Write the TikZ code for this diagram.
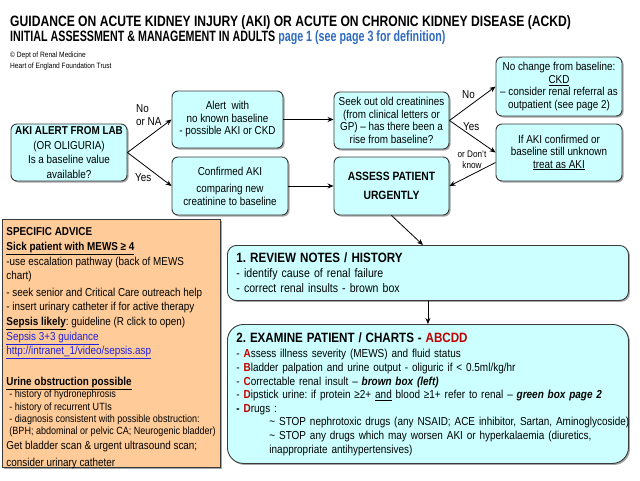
\documentclass[tikz,border=0pt]{standalone}
\usepackage{fontspec}
\setmainfont{Liberation Sans}[FakeStretch=0.86]
\usetikzlibrary{arrows.meta,positioning,shadows}
\definecolor{akicyan}{HTML}{CCFFFF}
\definecolor{akiorange}{HTML}{FFCC99}
\definecolor{akiblue}{HTML}{2E6BC0}
\definecolor{akired}{HTML}{C00000}
\definecolor{akilink}{HTML}{2020E0}
\definecolor{akiedge}{HTML}{3A3A3A}
\frenchspacing

\begin{document}
\begin{tikzpicture}[x=1pt,y=-1pt,
  box/.style={draw=akiedge,fill=akicyan,line width=0.9pt,rounded corners=6pt,
              inner sep=1pt,align=center,
              font=\fontsize{11.5}{12.5}\selectfont,
              drop shadow={shadow xshift=1.5pt,shadow yshift=-1.5pt,fill=black,opacity=0.35}},
  wide/.style={box,anchor=north west,minimum width=401pt,align=left,
               inner xsep=9pt,text width=383pt},
  lbl/.style={font=\fontsize{11.5}{12.5}\selectfont,align=left,inner sep=0pt},
  arr/.style={line width=0.8pt,-{Stealth[length=6pt,width=5pt]}}
]
\useasboundingbox (0,0) rectangle (640,480);

% ---- Heading -----------------------------------------------
\node[anchor=north west,inner sep=0pt,align=left,
      font=\fontsize{15}{15.8}\selectfont\bfseries] (title) at (10,15)
  {\scalebox{0.94}[1]{GUIDANCE ON ACUTE KIDNEY INJURY (AKI) OR ACUTE ON CHRONIC KIDNEY DISEASE (ACKD)}\\
   \scalebox{0.83}[1]{INITIAL ASSESSMENT \& MANAGEMENT IN ADULTS \textcolor{akiblue}{page 1 (see page 3 for definition)}}};
\node[anchor=north west,inner sep=0pt,align=left,
      font=\fontsize{7.7}{10.8}\selectfont] (dept) at (10,51.5)
  {\textcopyright{} Dept of Renal Medicine\\Heart of England Foundation Trust};

% ---- Flow boxes --------------------------------------------
\node[box,minimum width=116pt,minimum height=57pt,font=\fontsize{11.5}{14.5}\selectfont]
  (lab) at (69,152.5) {\textbf{AKI ALERT FROM LAB}\\(OR OLIGURIA)\\Is a baseline value\\available?};
\node[box,minimum width=111pt,minimum height=57pt]
  (nobase) at (227.5,119.5) {Alert\ \ with\\no known baseline\\- possible AKI or CKD};
\node[box,minimum width=116pt,minimum height=58pt]
  (confirmed) at (230,186) {Confirmed AKI\\[5pt]comparing new\\creatinine to baseline};
\node[box,minimum width=115pt,minimum height=57pt]
  (seek) at (391.5,120.5) {Seek out old creatinines\\(from clinical letters or\\GP) -- has there been a\\rise from baseline?};
\node[box,minimum width=115pt,minimum height=58pt,font=\fontsize{12}{19}\selectfont\bfseries]
  (assess) at (391.5,186) {ASSESS PATIENT\\URGENTLY};
\node[box,minimum width=126pt,minimum height=59pt]
  (nochange) at (559,86.5) {No change from baseline:\\\underline{CKD}\\-- consider renal referral as\\outpatient (see page 2)};
\node[box,minimum width=126pt,minimum height=57pt]
  (ifaki) at (559,152.5) {If AKI confirmed or\\baseline still unknown\\\underline{treat as AKI}};

% ---- Specific advice (brown box) ---------------------------
\node[draw=akiedge,fill=akiorange,line width=0.9pt,anchor=north west,inner sep=4pt,
      drop shadow={shadow xshift=1.5pt,shadow yshift=-1.5pt,fill=black,opacity=0.35}]
  (advice) at (2,219)
  {\parbox[t][240pt][t]{210pt}{\fontsize{11.5}{14.6}\selectfont
   \vspace*{4.5pt}
   \textbf{SPECIFIC ADVICE}\\
   \textbf{\underline{Sick patient with MEWS ≥ 4}}\\
   -use escalation pathway (back of MEWS\\
   chart)\\[2pt]
   - seek senior and Critical Care outreach help\\
   - insert urinary catheter if for active therapy\\
   \textbf{\underline{Sepsis likely}}: guideline (R click to open)\\
   \textcolor{akilink}{\underline{Sepsis 3+3 guidance}}\\
   \textcolor{akilink}{\underline{http://intranet\_1/video/sepsis.asp}}\\[16pt]
   \textbf{\underline{Urine obstruction possible}}\par
   {\fontsize{10.5}{12.4}\selectfont
   \hspace*{3pt}- history of hydronephrosis\\
   \hspace*{3pt}- history of recurrent UTIs\\
   \hspace*{3pt}\mbox{- diagnosis consistent with possible obstruction:}\\
   \hspace*{3pt}\mbox{(BPH; abdominal or pelvic CA; Neurogenic bladder)}\par}
   \vspace*{-0.5pt}
   Get bladder scan \& urgent ultrasound scan;\\[2.5pt]
   consider urinary catheter}};

% ---- Review / examine --------------------------------------
\node[wide,minimum height=55pt,rounded corners=9pt,font=\fontsize{12.3}{15}\selectfont]
  (review) at (227,245)
  {{\fontsize{13.5}{15}\selectfont\bfseries 1. REVIEW NOTES / HISTORY}\\
   - identify cause of renal failure\\
   - correct renal insults - brown box};
\node[wide,minimum height=139pt,rounded corners=16pt,font=\fontsize{11.6}{13.6}\selectfont]
  (examine) at (227,324)
  {{\fontsize{13.5}{15}\selectfont\bfseries 2. EXAMINE PATIENT / CHARTS - \textcolor{akired}{ABCDD}}\\[2pt]
   - \textcolor{akired}{\textbf{A}}ssess illness severity (MEWS) and fluid status\\
   - \textcolor{akired}{\textbf{B}}ladder palpation and urine output - oliguric if < 0.5ml/kg/hr\\
   - \textcolor{akired}{\textbf{C}}orrectable renal insult -- \textbf{\textit{brown box (left)}}\\
   \mbox{- \textcolor{akired}{\textbf{D}}ipstick urine: if protein ≥2+ \underline{and} blood ≥1+ refer to renal -- \textbf{\textit{green box page 2}}}\\
   \textbf{- \textcolor{akired}{D}}rugs :\\
   \hspace*{33pt}\mbox{\textasciitilde{} STOP nephrotoxic drugs (any NSAID; ACE inhibitor, Sartan, Aminoglycoside)}\\
   \hspace*{33pt}\textasciitilde{} STOP any drugs which may worsen AKI or hyperkalaemia (diuretics,\\
   \hspace*{33pt}inappropriate antihypertensives)};

% ---- Connectors --------------------------------------------
\draw[arr] (lab.east) -- (nobase.west);
\draw[arr] (lab.east) -- (confirmed.west);
\draw[arr] (nobase.east) -- (nobase.east -| seek.west);
\draw[arr] (confirmed.east) -- (assess.west);
\draw[arr] (seek.east) -- (nochange.west);
\draw[arr] (seek.east) -- (ifaki.west);
\draw[arr] ([yshift=-10pt]ifaki.west) -- (assess.east);
\draw[arr] (assess.south) -- ([xshift=-5pt]review.north);
\draw[arr] (review.south) -- (examine.north);

% ---- Connector labels --------------------------------------
\node[lbl,anchor=west] (nona) at (136,115) {No\\or NA};
\node[lbl,anchor=west] (yes1) at (135,178) {Yes};
\node[lbl,anchor=west] (no2) at (462,95) {No};
\node[lbl,anchor=west] (yes2) at (463,127) {Yes};
\node[lbl,align=center,font=\fontsize{9.5}{11.5}\selectfont] (dontknow) at (472,160) {or Don't\\know};

\end{tikzpicture}
\end{document}
